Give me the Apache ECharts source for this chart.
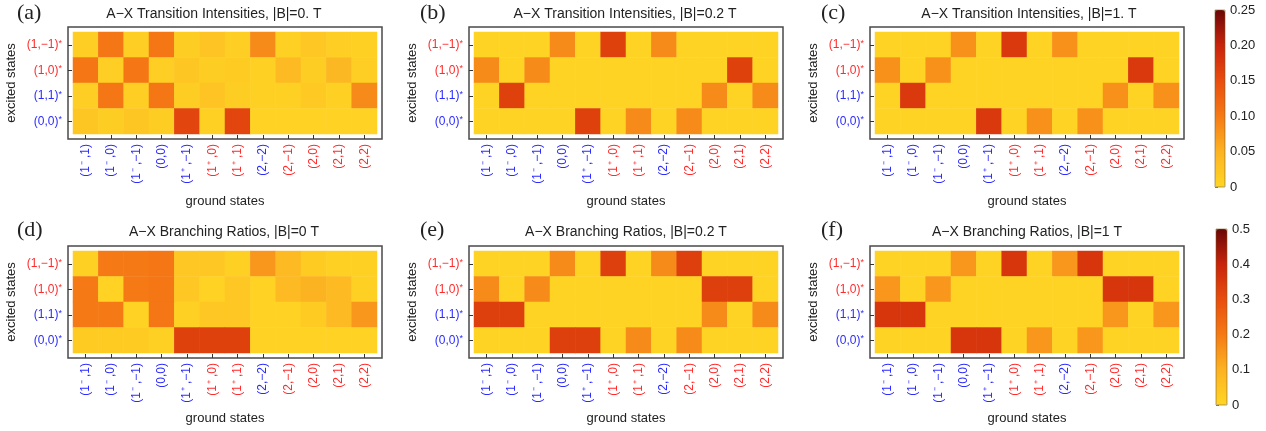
<!DOCTYPE html>
<html>
<head>
<meta charset="utf-8">
<script src="https://cdn.jsdelivr.net/npm/echarts@6/dist/echarts.min.js"></script>
<style>
html,body{margin:0;padding:0;background:#fff;}
#chart{width:1266px;height:431px;}
</style>
</head>
<body>
<div id="chart"></div>
<script>
// ---------------- DATA ----------------
const groundStates = ['(1⁻,1)','(1⁻,0)','(1⁻,−1)','(0,0)','(1⁺,−1)','(1⁺,0)','(1⁺,1)','(2,−2)','(2,−1)','(2,0)','(2,1)','(2,2)'];
const excitedStates = ['(1,−1)*','(1,0)*','(1,1)*','(0,0)*']; // top to bottom

const panelTitles = [
  'A−X Transition Intensities, |B|=0. T',
  'A−X Transition Intensities, |B|=0.2 T',
  'A−X Transition Intensities, |B|=1. T',
  'A−X Branching Ratios, |B|=0 T',
  'A−X Branching Ratios, |B|=0.2 T',
  'A−X Branching Ratios, |B|=1 T'
];
const panelLetters = ['(a)','(b)','(c)','(d)','(e)','(f)'];

// rows: (1,−1)*, (1,0)*, (1,1)*, (0,0)*  ; columns follow groundStates
const intensity0T = [
  [0.010, 0.105, 0.010, 0.105, 0.012, 0.025, 0.010, 0.085, 0.008, 0.020, 0.010, 0.008],
  [0.105, 0.010, 0.105, 0.010, 0.022, 0.012, 0.015, 0.008, 0.040, 0.012, 0.042, 0.010],
  [0.010, 0.105, 0.010, 0.105, 0.012, 0.025, 0.012, 0.008, 0.008, 0.018, 0.008, 0.085],
  [0.022, 0.012, 0.022, 0.012, 0.160, 0.008, 0.160, 0.005, 0.005, 0.005, 0.005, 0.005]
];
const intensity02T = [
  [0.003, 0.003, 0.003, 0.085, 0.003, 0.165, 0.003, 0.085, 0.003, 0.003, 0.003, 0.003],
  [0.085, 0.003, 0.085, 0.003, 0.003, 0.003, 0.003, 0.003, 0.003, 0.003, 0.165, 0.003],
  [0.003, 0.165, 0.003, 0.003, 0.003, 0.003, 0.003, 0.003, 0.003, 0.085, 0.003, 0.085],
  [0.003, 0.003, 0.003, 0.003, 0.165, 0.003, 0.085, 0.003, 0.085, 0.003, 0.003, 0.003]
];
const intensity1T = [
  [0.003, 0.003, 0.003, 0.080, 0.003, 0.175, 0.003, 0.080, 0.003, 0.003, 0.003, 0.003],
  [0.080, 0.003, 0.080, 0.003, 0.003, 0.003, 0.003, 0.003, 0.003, 0.003, 0.175, 0.003],
  [0.003, 0.175, 0.003, 0.003, 0.003, 0.003, 0.003, 0.003, 0.003, 0.080, 0.003, 0.080],
  [0.003, 0.003, 0.003, 0.003, 0.175, 0.003, 0.080, 0.003, 0.080, 0.003, 0.003, 0.003]
];
const branching0T = [
  [0.015, 0.200, 0.200, 0.210, 0.040, 0.040, 0.015, 0.150, 0.080, 0.030, 0.015, 0.015],
  [0.200, 0.010, 0.200, 0.210, 0.040, 0.010, 0.040, 0.010, 0.080, 0.100, 0.080, 0.015],
  [0.200, 0.200, 0.010, 0.210, 0.015, 0.040, 0.040, 0.010, 0.010, 0.030, 0.080, 0.150],
  [0.030, 0.030, 0.030, 0.015, 0.330, 0.330, 0.330, 0.010, 0.010, 0.010, 0.010, 0.010]
];
const branching02T = [
  [0.005, 0.005, 0.005, 0.170, 0.005, 0.335, 0.005, 0.170, 0.335, 0.005, 0.005, 0.005],
  [0.170, 0.005, 0.170, 0.005, 0.005, 0.005, 0.005, 0.005, 0.005, 0.335, 0.335, 0.005],
  [0.335, 0.335, 0.005, 0.005, 0.005, 0.005, 0.005, 0.005, 0.005, 0.170, 0.005, 0.170],
  [0.005, 0.005, 0.005, 0.335, 0.335, 0.005, 0.170, 0.005, 0.170, 0.005, 0.005, 0.005]
];
const branching1T = [
  [0.005, 0.005, 0.005, 0.150, 0.005, 0.355, 0.005, 0.150, 0.355, 0.005, 0.005, 0.005],
  [0.150, 0.005, 0.150, 0.005, 0.005, 0.005, 0.005, 0.005, 0.005, 0.355, 0.355, 0.005],
  [0.355, 0.355, 0.005, 0.005, 0.005, 0.005, 0.005, 0.005, 0.005, 0.150, 0.005, 0.150],
  [0.005, 0.005, 0.005, 0.355, 0.355, 0.005, 0.150, 0.005, 0.150, 0.005, 0.005, 0.005]
];

const intensityTickLabels = ['0','0.05','0.10','0.15','0.20','0.25'];
const branchingTickLabels = ['0','0.1','0.2','0.3','0.4','0.5'];

// ---------------- STYLE / LAYOUT ----------------
const FONT = 'Liberation Sans, Arial, sans-serif';
const BLUE = '#2b2bff', RED = '#ff2b2b';
const groundColorKey = ['b','b','b','b','b','r','r','b','r','r','r','r'];
const excitedColorKey = ['r','r','b','b'];
const cmap = ['#FFD524','#FCB322','#F57A15','#E94D0E','#C8240C','#6B0707'];

const panelData = [intensity0T, intensity02T, intensity1T, branching0T, branching02T, branching1T];
const cellLeft = [73, 474, 875];
const cellTop = [32, 251];
const cellW = 304, cellH = 102, pad = 5;
const titleX = [[214, 625, 1029],[224, 626, 1027]];
const titleY = [14, 232];
const letterX = [17, 420, 821];
const letterY = [13, 230];
const xNameGap = [56, 54];

const grids = [], xAxes = [], yAxes = [], series = [], graphics = [];

const richStyles = {
  b: {color: BLUE, fontSize: 12, fontFamily: FONT},
  r: {color: RED, fontSize: 12, fontFamily: FONT},
  bp: {color: BLUE, fontSize: 12, fontFamily: FONT, padding: [0, 3, 0, 1]},
  rp: {color: RED, fontSize: 12, fontFamily: FONT, padding: [0, 3, 0, 1]},
  bs: {color: BLUE, fontSize: 9, fontFamily: FONT, verticalAlign: 'top', lineHeight: 9},
  rs: {color: RED, fontSize: 9, fontFamily: FONT, verticalAlign: 'top', lineHeight: 9}
};

function groundLabel(v, idx) {
  const k = groundColorKey[idx];
  const m = v.match(/^(.*?)([⁻⁺])(.*)$/);
  if (!m) return '{' + k + '|' + v + '}';
  return '{' + k + '|' + m[1] + '}{' + k + 'p|' + m[2] + '}{' + k + '|' + m[3] + '}';
}

panelData.forEach((rows, i) => {
  const col = i % 3, row = Math.floor(i / 3);
  const left = cellLeft[col], top = cellTop[row];
  grids.push({left: left, top: top, width: cellW, height: cellH});
  xAxes.push({
    gridIndex: i, type: 'category', data: groundStates, offset: pad,
    axisLine: {show: false},
    axisTick: {show: true, inside: true, length: 4, alignWithLabel: true, lineStyle: {color: '#333', width: 1}},
    splitLine: {show: false},
    axisLabel: {rotate: 90, margin: 5, interval: 0, rich: richStyles, formatter: groundLabel},
    name: 'ground states', nameLocation: 'middle', nameGap: xNameGap[row],
    nameTextStyle: {fontSize: 13, color: '#222', fontFamily: FONT}
  });
  yAxes.push({
    gridIndex: i, type: 'category', data: excitedStates, inverse: true, offset: pad,
    axisLine: {show: false},
    axisTick: {show: true, inside: true, length: 4, alignWithLabel: true, lineStyle: {color: '#333', width: 1}},
    splitLine: {show: false},
    axisLabel: {
      margin: 6, interval: 0, rich: richStyles,
      formatter: (v, idx) => {
        const k = excitedColorKey[idx];
        return '{' + k + '|' + v.slice(0, -1) + '}{' + k + 's|*}';
      }
    },
    name: 'excited states', nameLocation: 'middle', nameGap: 50,
    nameTextStyle: {fontSize: 13, color: '#222', fontFamily: FONT}
  });
  const cells = [];
  rows.forEach((r, ri) => r.forEach((v, ci) => cells.push([ci, ri, v])));
  series.push({
    type: 'heatmap', xAxisIndex: i, yAxisIndex: i, data: cells,
    itemStyle: {borderWidth: 0},
    emphasis: {disabled: true}, silent: true
  });
  graphics.push({
    type: 'text', x: titleX[row][col], y: titleY[row], silent: true,
    style: {text: panelTitles[i], fontSize: 14, fontFamily: FONT, fill: '#222', align: 'center', verticalAlign: 'middle'}
  });
  graphics.push({
    type: 'text', x: letterX[col], y: letterY[row], silent: true,
    style: {text: panelLetters[i], fontSize: 22, fontFamily: 'Liberation Serif, Times New Roman, serif', fill: '#222', align: 'left', verticalAlign: 'middle'}
  });
});

// frames
panelData.forEach((rows, i) => {
  const col = i % 3, row = Math.floor(i / 3);
  const gi = grids.length;
  grids.push({
    left: cellLeft[col] - pad, top: cellTop[row] - pad, width: cellW + 2 * pad, height: cellH + 2 * pad,
    show: true, borderColor: '#4a4a4a', borderWidth: 1.5, backgroundColor: 'transparent'
  });
  xAxes.push({gridIndex: gi, type: 'value', show: false, min: 0, max: 1});
  yAxes.push({gridIndex: gi, type: 'value', show: false, min: 0, max: 1});
});

// colour bar axes
const bars = [
  {left: 1215, top: 10, width: 10, height: 177, max: 0.25, interval: 0.05, labels: intensityTickLabels},
  {left: 1216, top: 229, width: 11, height: 176, max: 0.5, interval: 0.1, labels: branchingTickLabels}
];
bars.forEach(b => {
  const gi = grids.length;
  grids.push({left: b.left, top: b.top, width: b.width, height: b.height,
              show: true, borderColor: 'rgba(120,90,30,0.55)', borderWidth: 1, backgroundColor: 'transparent', z: 5});
  xAxes.push({gridIndex: gi, type: 'value', show: false, min: 0, max: 1});
  yAxes.push({
    gridIndex: gi, type: 'value', position: 'right', min: 0, max: b.max, interval: b.interval,
    axisLine: {show: false}, splitLine: {show: false},
    axisTick: {show: true, length: 3, lineStyle: {color: '#888'}},
    minorTick: {show: true, splitNumber: 5, length: 2, lineStyle: {color: '#aaa'}},
    axisLabel: {margin: 5, fontSize: 13, color: '#222', fontFamily: FONT, formatter: (v, idx) => b.labels[idx]}
  });
});

const option = {
  animation: false,
  backgroundColor: '#ffffff',
  textStyle: {fontFamily: FONT},
  grid: grids,
  xAxis: xAxes,
  yAxis: yAxes,
  visualMap: [
    {type: 'continuous', seriesIndex: [0, 1, 2], min: 0, max: 0.25, calculable: false, hoverLink: false,
     left: 1215, top: 10, itemWidth: 10, itemHeight: 177, padding: 0, inRange: {color: cmap}},
    {type: 'continuous', seriesIndex: [3, 4, 5], min: 0, max: 0.5, calculable: false, hoverLink: false,
     left: 1216, top: 229, itemWidth: 11, itemHeight: 176, padding: 0, inRange: {color: cmap}}
  ],
  series: series,
  graphic: graphics
};

const chart = echarts.init(document.getElementById('chart'), null, {renderer: 'canvas'});
chart.setOption(option);
</script>
</body>
</html>
